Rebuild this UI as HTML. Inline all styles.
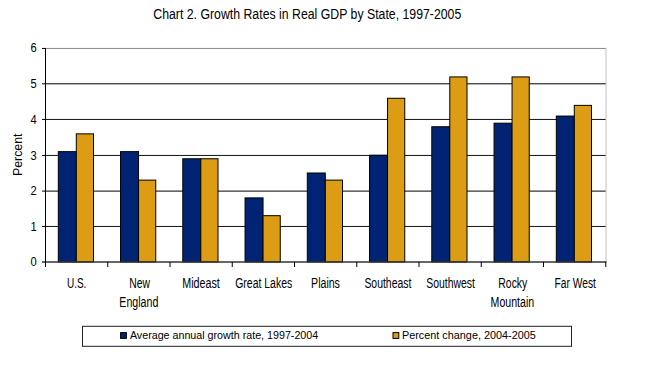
<!DOCTYPE html>
<html><head><meta charset="utf-8"><style>
html,body{margin:0;padding:0;background:#fff;}
svg{display:block;}
text{font-family:"Liberation Sans",sans-serif;fill:#000;}
</style></head><body>
<svg width="647" height="373" viewBox="0 0 647 373">
<rect width="647" height="373" fill="#fff"/>
<line x1="45.5" y1="226.45" x2="606.00" y2="226.45" stroke="#111" stroke-width="1"/>
<line x1="45.5" y1="191.1" x2="606.00" y2="191.1" stroke="#000" stroke-width="1"/>
<line x1="45.5" y1="155.45" x2="606.00" y2="155.45" stroke="#111" stroke-width="1"/>
<line x1="45.5" y1="119.45" x2="606.00" y2="119.45" stroke="#111" stroke-width="1"/>
<line x1="45.5" y1="83.8" x2="606.00" y2="83.8" stroke="#000" stroke-width="1"/>
<line x1="45.5" y1="48.45" x2="606.00" y2="48.45" stroke="#8a8a8a" stroke-width="1"/>
<line x1="606.00" y1="48.45" x2="606.00" y2="261.95" stroke="#c0c0c0" stroke-width="1"/>
<rect x="58.30" y="151.64" width="18.00" height="110.31" fill="#002473" stroke="#000" stroke-width="1"/>
<rect x="76.30" y="133.85" width="17.20" height="128.10" fill="#DC9D14" stroke="#000" stroke-width="1"/>
<rect x="120.55" y="151.64" width="18.00" height="110.31" fill="#002473" stroke="#000" stroke-width="1"/>
<rect x="138.55" y="180.11" width="17.20" height="81.84" fill="#DC9D14" stroke="#000" stroke-width="1"/>
<rect x="182.80" y="158.76" width="18.00" height="103.19" fill="#002473" stroke="#000" stroke-width="1"/>
<rect x="200.80" y="158.76" width="17.20" height="103.19" fill="#DC9D14" stroke="#000" stroke-width="1"/>
<rect x="245.05" y="197.90" width="18.00" height="64.05" fill="#002473" stroke="#000" stroke-width="1"/>
<rect x="263.05" y="215.69" width="17.20" height="46.26" fill="#DC9D14" stroke="#000" stroke-width="1"/>
<rect x="307.30" y="172.99" width="18.00" height="88.96" fill="#002473" stroke="#000" stroke-width="1"/>
<rect x="325.30" y="180.11" width="17.20" height="81.84" fill="#DC9D14" stroke="#000" stroke-width="1"/>
<rect x="369.55" y="155.20" width="18.00" height="106.75" fill="#002473" stroke="#000" stroke-width="1"/>
<rect x="387.55" y="98.27" width="17.20" height="163.68" fill="#DC9D14" stroke="#000" stroke-width="1"/>
<rect x="431.80" y="126.73" width="18.00" height="135.22" fill="#002473" stroke="#000" stroke-width="1"/>
<rect x="449.80" y="76.92" width="17.20" height="185.03" fill="#DC9D14" stroke="#000" stroke-width="1"/>
<rect x="494.05" y="123.17" width="18.00" height="138.78" fill="#002473" stroke="#000" stroke-width="1"/>
<rect x="512.05" y="76.92" width="17.20" height="185.03" fill="#DC9D14" stroke="#000" stroke-width="1"/>
<rect x="556.30" y="116.06" width="18.00" height="145.89" fill="#002473" stroke="#000" stroke-width="1"/>
<rect x="574.30" y="105.38" width="17.20" height="156.57" fill="#DC9D14" stroke="#000" stroke-width="1"/>
<line x1="42" y1="261.95" x2="606.50" y2="261.95" stroke="#333" stroke-width="1.5"/>
<line x1="45.5" y1="47.95" x2="45.5" y2="267" stroke="#000" stroke-width="1"/>
<line x1="42" y1="226.45" x2="45.5" y2="226.45" stroke="#000" stroke-width="1"/>
<line x1="42" y1="191.1" x2="45.5" y2="191.1" stroke="#000" stroke-width="1"/>
<line x1="42" y1="155.45" x2="45.5" y2="155.45" stroke="#000" stroke-width="1"/>
<line x1="42" y1="119.45" x2="45.5" y2="119.45" stroke="#000" stroke-width="1"/>
<line x1="42" y1="83.8" x2="45.5" y2="83.8" stroke="#000" stroke-width="1"/>
<line x1="42" y1="48.45" x2="45.5" y2="48.45" stroke="#000" stroke-width="1"/>
<line x1="107.75" y1="261.95" x2="107.75" y2="267" stroke="#000" stroke-width="1"/>
<line x1="170.00" y1="261.95" x2="170.00" y2="267" stroke="#000" stroke-width="1"/>
<line x1="232.25" y1="261.95" x2="232.25" y2="267" stroke="#000" stroke-width="1"/>
<line x1="294.50" y1="261.95" x2="294.50" y2="267" stroke="#000" stroke-width="1"/>
<line x1="356.75" y1="261.95" x2="356.75" y2="267" stroke="#000" stroke-width="1"/>
<line x1="419.00" y1="261.95" x2="419.00" y2="267" stroke="#000" stroke-width="1"/>
<line x1="481.25" y1="261.95" x2="481.25" y2="267" stroke="#000" stroke-width="1"/>
<line x1="543.50" y1="261.95" x2="543.50" y2="267" stroke="#000" stroke-width="1"/>
<line x1="605.75" y1="261.95" x2="605.75" y2="267" stroke="#000" stroke-width="1"/>
<rect x="82.5" y="326.3" width="489" height="20" fill="#fff" stroke="#222" stroke-width="1"/>
<rect x="120.6" y="332.6" width="5.8" height="5.8" fill="#002473" stroke="#000" stroke-width="1"/>
<rect x="393.0" y="332.6" width="5.8" height="5.8" fill="#DC9D14" stroke="#000" stroke-width="1"/>
<text transform="translate(153.30,19.30) scale(1,1.08)" font-size="13.5" textLength="308.00" lengthAdjust="spacingAndGlyphs" >Chart 2. Growth Rates in Real GDP by State, 1997-2005</text>
<text x="30.60" y="266.25" font-size="12.5" textLength="6.20" lengthAdjust="spacingAndGlyphs" >0</text>
<text x="30.60" y="230.75" font-size="12.5" textLength="6.20" lengthAdjust="spacingAndGlyphs" >1</text>
<text x="30.60" y="195.40" font-size="12.5" textLength="6.20" lengthAdjust="spacingAndGlyphs" >2</text>
<text x="30.60" y="159.75" font-size="12.5" textLength="6.20" lengthAdjust="spacingAndGlyphs" >3</text>
<text x="30.60" y="123.75" font-size="12.5" textLength="6.20" lengthAdjust="spacingAndGlyphs" >4</text>
<text x="30.60" y="88.10" font-size="12.5" textLength="6.20" lengthAdjust="spacingAndGlyphs" >5</text>
<text x="30.60" y="52.25" font-size="12.5" textLength="6.20" lengthAdjust="spacingAndGlyphs" >6</text>
<text x="22.30" y="176.00" font-size="13.6" textLength="42.50" lengthAdjust="spacingAndGlyphs" transform="rotate(-90 22.3 176)">Percent</text>
<text transform="translate(66.90,288.20) scale(1,1.07)" font-size="13.2" textLength="19.50" lengthAdjust="spacingAndGlyphs" >U.S.</text>
<text transform="translate(129.20,288.20) scale(1,1.07)" font-size="13.2" textLength="20.80" lengthAdjust="spacingAndGlyphs" >New</text>
<text transform="translate(119.30,306.60) scale(1,1.07)" font-size="13.2" textLength="39.00" lengthAdjust="spacingAndGlyphs" >England</text>
<text transform="translate(182.30,288.20) scale(1,1.07)" font-size="13.2" textLength="37.50" lengthAdjust="spacingAndGlyphs" >Mideast</text>
<text transform="translate(235.20,288.20) scale(1,1.07)" font-size="13.2" textLength="57.00" lengthAdjust="spacingAndGlyphs" >Great Lakes</text>
<text transform="translate(311.10,288.20) scale(1,1.07)" font-size="13.2" textLength="28.80" lengthAdjust="spacingAndGlyphs" >Plains</text>
<text transform="translate(364.40,288.20) scale(1,1.07)" font-size="13.2" textLength="47.00" lengthAdjust="spacingAndGlyphs" >Southeast</text>
<text transform="translate(426.20,288.20) scale(1,1.07)" font-size="13.2" textLength="48.80" lengthAdjust="spacingAndGlyphs" >Southwest</text>
<text transform="translate(498.30,288.20) scale(1,1.07)" font-size="13.2" textLength="29.00" lengthAdjust="spacingAndGlyphs" >Rocky</text>
<text transform="translate(490.60,306.60) scale(1,1.07)" font-size="13.2" textLength="43.60" lengthAdjust="spacingAndGlyphs" >Mountain</text>
<text transform="translate(554.50,288.20) scale(1,1.07)" font-size="13.2" textLength="41.40" lengthAdjust="spacingAndGlyphs" >Far West</text>
<text x="129.90" y="339.00" font-size="11.2" textLength="188.30" lengthAdjust="spacingAndGlyphs" >Average annual growth rate, 1997-2004</text>
<text x="402.00" y="339.00" font-size="11.2" textLength="133.80" lengthAdjust="spacingAndGlyphs" >Percent change, 2004-2005</text>
</svg></body></html>
